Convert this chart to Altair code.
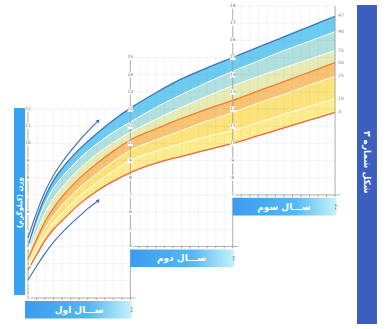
import altair as alt
import pandas as pd

# ---------------- data ----------------
months = [0, 1, 2, 3, 4, 6, 8, 10, 12, 15, 18, 21, 24, 27, 30, 33, 36]
p_top = [4.0, 5.6, 6.9, 7.85, 8.55, 9.65, 10.55, 11.35, 12.05, 12.95, 13.75, 14.4, 15.0, 15.6, 16.2, 16.8, 17.4]
p_w1 = [3.8, 5.3, 6.5, 7.4, 8.05, 9.1, 9.95, 10.65, 11.25, 12.1, 12.85, 13.55, 14.2, 14.8, 15.4, 15.95, 16.5]
p_w2 = [3.5, 4.85, 5.95, 6.8, 7.45, 8.5, 9.35, 10.05, 10.65, 11.4, 12.1, 12.75, 13.35, 13.9, 14.4, 14.9, 15.4]
p_orange = [3.27, 4.4, 5.45, 6.25, 6.9, 7.95, 8.8, 9.55, 10.2, 10.85, 11.45, 12.0, 12.5, 13.05, 13.6, 14.15, 14.7]
p_w3 = [3.04, 4.1, 5.05, 5.8, 6.4, 7.4, 8.2, 8.95, 9.6, 10.2, 10.75, 11.3, 11.8, 12.35, 12.85, 13.4, 13.9]
p_w4 = [2.86, 3.8, 4.7, 5.4, 5.95, 6.9, 7.7, 8.4, 9.0, 9.55, 10.0, 10.4, 10.75, 11.2, 11.7, 12.15, 12.6]
p_red = [2.63, 3.5, 4.35, 5.0, 5.5, 6.45, 7.2, 7.8, 8.3, 8.85, 9.25, 9.62, 10.0, 10.45, 10.9, 11.35, 11.8]
curve_labels = ["97", "90", "75", "50", "25", "10", "3"]

arrow_months = [0, 1, 2, 3, 4, 5, 6, 7, 8.2]
arrow_upper = [4.5, 5.95, 7.2, 8.15, 8.9, 9.55, 10.15, 10.7, 11.3]
arrow_lower = [2.05, 2.85, 3.6, 4.25, 4.8, 5.3, 5.75, 6.2, 6.65]

# panels: first month, last month, lowest kg, highest kg
panel_start = [0, 12, 24]
panel_end = [12, 24, 36]
panel_low = [1, 4, 7]
panel_high = [12, 15, 18]
panel_titles = ["ســـال اول", "ســـال دوم", "ســـال سوم"]

y_title = "وزن (کیلوگرم)"
fig_title = "شکل شماره ۳"

# ---------------- scales ----------------
xs = alt.Scale(domain=[-3.2825, 42.673], nice=False, zero=False)
ys = alt.Scale(domain=[-0.8044, 18.3457], nice=False, zero=False)


def X(f):
    return alt.X(f"{f}:Q", scale=xs, axis=None)


def Y(f):
    return alt.Y(f"{f}:Q", scale=ys, axis=None)


# ---------------- bands ----------------
curves = [p_top, p_w1, p_w2, p_orange, p_w3, p_w4, p_red]
band_colors = ["#6ccbf1", "#b0e1e0", "#e6ecb4", "#f8c474", "#fce37a", "#fded8e"]
rows = []
for i, col in enumerate(band_colors):
    for m, hi, lo in zip(months, curves[i], curves[i + 1]):
        rows.append(dict(band=i, m=m, hi=hi, lo=lo, fill=col))
bands = alt.Chart(pd.DataFrame(rows)).mark_area(interpolate="monotone").encode(
    x=X("m"), y=Y("hi"), y2="lo", color=alt.Color("fill:N", scale=None), detail="band:N"
)

# ---------------- grid ----------------
grid_rows = []
for s, e, lo, hi in zip(panel_start, panel_end, panel_low, panel_high):
    for m in range(s, e + 1):
        grid_rows.append(dict(x=m, x2=m, y=lo, y2=hi))
    for k in range(lo, hi + 1):
        grid_rows.append(dict(x=s, x2=e, y=k, y2=k))
grid = alt.Chart(pd.DataFrame(grid_rows)).mark_rule(color="#8a8a8a", strokeWidth=0.5, opacity=0.2).encode(
    x=X("x"), x2="x2", y=Y("y"), y2="y2"
)

# ---------------- curves ----------------
line_colors = ["#3a74bb", "#ffffff", "#ffffff", "#f07e30", "#ffffff", "#ffffff", "#f0623a"]
line_widths = [1.3, 0.9, 0.9, 1.3, 0.9, 0.9, 1.3]
lrows = []
for i, c in enumerate(curves):
    for m, v in zip(months, c):
        lrows.append(dict(c=i, m=m, v=v, col=line_colors[i], w=line_widths[i]))
lines = alt.Chart(pd.DataFrame(lrows)).mark_line(interpolate="monotone").encode(
    x=X("m"), y=Y("v"), color=alt.Color("col:N", scale=None),
    strokeWidth=alt.StrokeWidth("w:Q", scale=None), detail="c:N"
)

# ---------------- axes ----------------
ax_rows = [
    dict(x=0, x2=0, y=1, y2=12),
    dict(x=12, x2=12, y=1, y2=15),
    dict(x=24, x2=24, y=4, y2=18),
    dict(x=36, x2=36, y=7, y2=18),
    dict(x=0, x2=12.6, y=1, y2=1),
    dict(x=12, x2=24.6, y=4, y2=4),
    dict(x=24, x2=36.6, y=7, y2=7),
]
axes = alt.Chart(pd.DataFrame(ax_rows)).mark_rule(color="#a0a0a0", strokeWidth=0.8).encode(
    x=X("x"), x2="x2", y=Y("y"), y2="y2"
)
tick_rows = []
for s, e, lo in zip(panel_start, panel_end, panel_low):
    for m in range(s, e + 1):
        tick_rows.append(dict(x=m, y=lo, y2=lo - 0.12))
ticks = alt.Chart(pd.DataFrame(tick_rows)).mark_rule(color="#8a8a8a", strokeWidth=0.7).encode(
    x=X("x"), y=Y("y"), y2="y2"
)

lab_rows = []
for s, lo, hi in zip(panel_start, panel_low, panel_high):
    for k in range(lo, hi + 1):
        lab_rows.append(dict(x=s, y=k, t=str(k)))
lab_df = pd.DataFrame(lab_rows)
lab_bg = alt.Chart(lab_df).mark_square(color="white", opacity=1, size=30).encode(x=X("x"), y=Y("y"))
labs = alt.Chart(lab_df).mark_text(fontSize=4.5, color="#6f6f6f", font="DejaVu Sans").encode(
    x=X("x"), y=Y("y"), text="t:N"
)
end_df = pd.DataFrame(dict(x=[36] * 7, y=[c[-1] for c in curves], t=curve_labels))
end_labs = alt.Chart(end_df).mark_text(fontSize=4.5, color="#7a7a7a", align="left", dx=3, font="DejaVu Sans").encode(
    x=X("x"), y=Y("y"), text="t:N"
)

# ---------------- arrows ----------------
arr_rows = []
for m, a, b in zip(arrow_months, arrow_upper, arrow_lower):
    arr_rows.append(dict(g="u", m=m, v=a))
    arr_rows.append(dict(g="l", m=m, v=b))
arrows = alt.Chart(pd.DataFrame(arr_rows)).mark_line(color="#3a6cb4", strokeWidth=1.1, interpolate="monotone").encode(
    x=X("m"), y=Y("v"), detail="g:N"
)
heads = alt.Chart(pd.DataFrame(dict(m=[arrow_months[-1]] * 2, v=[arrow_upper[-1], arrow_lower[-1]]))).mark_point(
    shape="triangle", filled=True, color="#3a6cb4", size=16, angle=45, opacity=1
).encode(x=X("m"), y=Y("v"))

# ---------------- title boxes ----------------
grad = alt.LinearGradient(
    gradient="linear", x1=0, x2=1, y1=0, y2=0,
    stops=[alt.GradientStop(color="#3b9cef", offset=0), alt.GradientStop(color="#55b8f2", offset=0.6),
           alt.GradientStop(color="#c6f3fa", offset=1)],
)
box_df = pd.DataFrame(dict(
    x=[s - (0.35 if s == 0 else 0) for s in panel_start],
    x2=[e + 0.15 for e in panel_end],
    y=[lo - 0.17 for lo in panel_low],
    y2=[lo - 1.2 for lo in panel_low],
    xc=[(s + e) / 2 for s, e in zip(panel_start, panel_end)],
    yc=[lo - 0.7 for lo in panel_low],
    t=panel_titles,
))
boxes = alt.Chart(box_df).mark_rect(color=grad).encode(x=X("x"), x2="x2", y=Y("y"), y2="y2")
box_text = alt.Chart(box_df).mark_text(fontSize=9, fontWeight="bold", color="white", font="DejaVu Sans").encode(
    x=X("xc"), y=Y("yc"), text="t:N"
)
unit_text = alt.Chart(box_df).mark_text(fontSize=4, color="#2f5f9a", angle=90, font="DejaVu Sans").encode(
    x=alt.X("x2:Q", scale=xs, axis=None), y=Y("yc"), text=alt.value("ماه")
)

side_df = pd.DataFrame(dict(x=[-1.64], x2=[-0.35], y=[12.06], y2=[1.17], xc=[-0.99], yc=[6.55], t=[y_title]))
side_box = alt.Chart(side_df).mark_rect(color="#3aa2f2").encode(x=X("x"), x2="x2", y=Y("y"), y2="y2")
side_text = alt.Chart(side_df).mark_text(fontSize=7, fontWeight="bold", color="white", angle=270, font="DejaVu Sans").encode(
    x=X("xc"), y=Y("yc"), text="t:N"
)

bar_df = pd.DataFrame(dict(x=[38.57], x2=[40.91], y=[18.05], y2=[-0.51], xc=[39.74], yc=[8.9], t=[fig_title]))
bar = alt.Chart(bar_df).mark_rect(color="#3b5ebf").encode(x=X("x"), x2="x2", y=Y("y"), y2="y2")
bar_text = alt.Chart(bar_df).mark_text(fontSize=9, fontWeight="bold", color="white", angle=90, font="DejaVu Sans").encode(
    x=X("xc"), y=Y("yc"), text="t:N"
)

chart = alt.layer(
    bands, grid, lines, axes, ticks, lab_bg, labs, end_labs, arrows, heads,
    boxes, box_text, unit_text, side_box, side_text, bar, bar_text,
).properties(
    width=392, height=329, padding=0, autosize=alt.AutoSizeParams(type="none"), background="white"
).configure_view(stroke=None)

chart.save("out.html", embed_options={"renderer": "svg", "actions": False})
